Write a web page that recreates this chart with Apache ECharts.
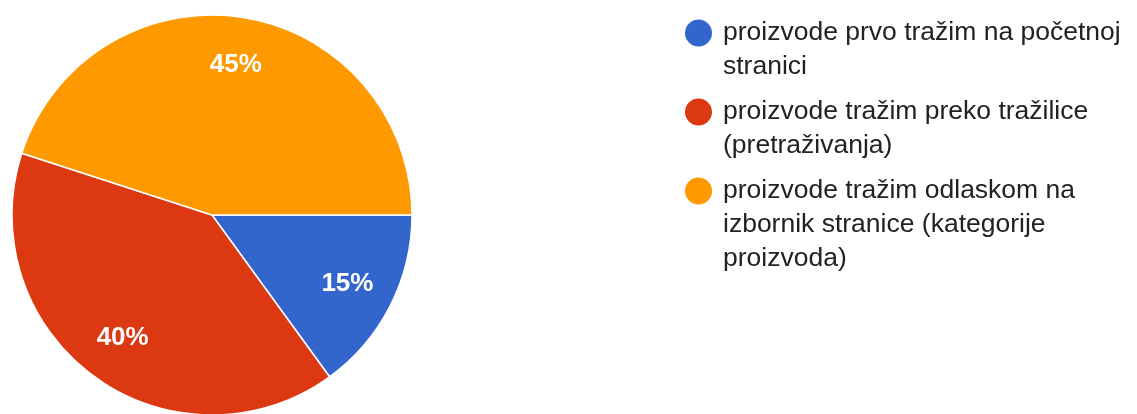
<!DOCTYPE html>
<html>
<head>
<meta charset="utf-8">
<script src="https://cdn.jsdelivr.net/npm/echarts@6/dist/echarts.min.js"></script>
<style>
html,body{margin:0;padding:0;background:#fff;}
#c{width:1137px;height:414px;}
</style>
</head>
<body>
<div id="c"></div>
<script>
// Data
var categories = [
  'proizvode prvo tražim na početnoj stranici',
  'proizvode tražim preko tražilice (pretraživanja)',
  'proizvode tražim odlaskom na izbornik stranice (kategorije proizvoda)'
];
var legendLines = [
  ['proizvode prvo tražim na početnoj', 'stranici'],
  ['proizvode tražim preko tražilice', '(pretraživanja)'],
  ['proizvode tražim odlaskom na', 'izbornik stranice (kategorije', 'proizvoda)']
];
var values = [15, 40, 45];
var colors = ['#3366cc', '#dc3912', '#ff9900'];

var FONT = '"Liberation Sans", Arial, sans-serif';
var chart = echarts.init(document.getElementById('c'));
var seriesData = categories.map(function (n, i) {
  return { name: n, value: values[i], itemStyle: { color: colors[i] } };
});
var LH = 34;
var rich = { sp: { width: 38, height: 26 } };
colors.forEach(function (c, i) {
  rich['dot' + i] = { width: 27, height: 27, borderRadius: 13.5, backgroundColor: c };
  rich['gap' + i] = { width: 11 };
});
rich.t = { fontFamily: FONT, fontSize: 26.5, color: '#222' };
Object.keys(rich).forEach(function (k) { rich[k].lineHeight = LH; });

chart.setOption({
  animation: false,
  legend: {
    orient: 'vertical',
    left: 680,
    top: 16,
    padding: 0,
    icon: 'none',
    itemWidth: 0,
    itemHeight: 0,
    itemGap: 11,
    selectedMode: false,
    data: categories,
    formatter: function (name) {
      var i = categories.indexOf(name);
      var lines = legendLines[i];
      return lines.map(function (l, j) {
        return (j === 0 ? '{dot' + i + '|}{gap' + i + '|}' : '{sp|}') + '{t|' + l + '}';
      }).join('\n');
    },
    textStyle: { rich: rich, fontFamily: FONT, fontSize: 26.5, color: '#222', lineHeight: LH }
  },
  series: [
    {
      type: 'pie',
      center: [212, 215],
      radius: [0, 200],
      startAngle: 0,
      clockwise: true,
      data: seriesData,
      label: { show: false },
      labelLine: { show: false },
      itemStyle: { borderColor: '#fff', borderWidth: 1.5 },
      emphasis: { disabled: true }
    },
    {
      type: 'pie',
      center: [212, 215],
      radius: [98, 200],
      startAngle: 0,
      clockwise: true,
      silent: true,
      data: seriesData.map(function (d) { return { name: d.name, value: d.value, itemStyle: { color: 'rgba(0,0,0,0)' } }; }),
      label: {
        show: true,
        position: 'inside',
        formatter: function (p) { return Math.round(p.percent) + '%'; },
        color: '#fff',
        fontFamily: FONT,
        fontWeight: 'bold',
        fontSize: 26
      },
      labelLine: { show: false },
      emphasis: { disabled: true }
    }
  ]
});
</script>
</body>
</html>
